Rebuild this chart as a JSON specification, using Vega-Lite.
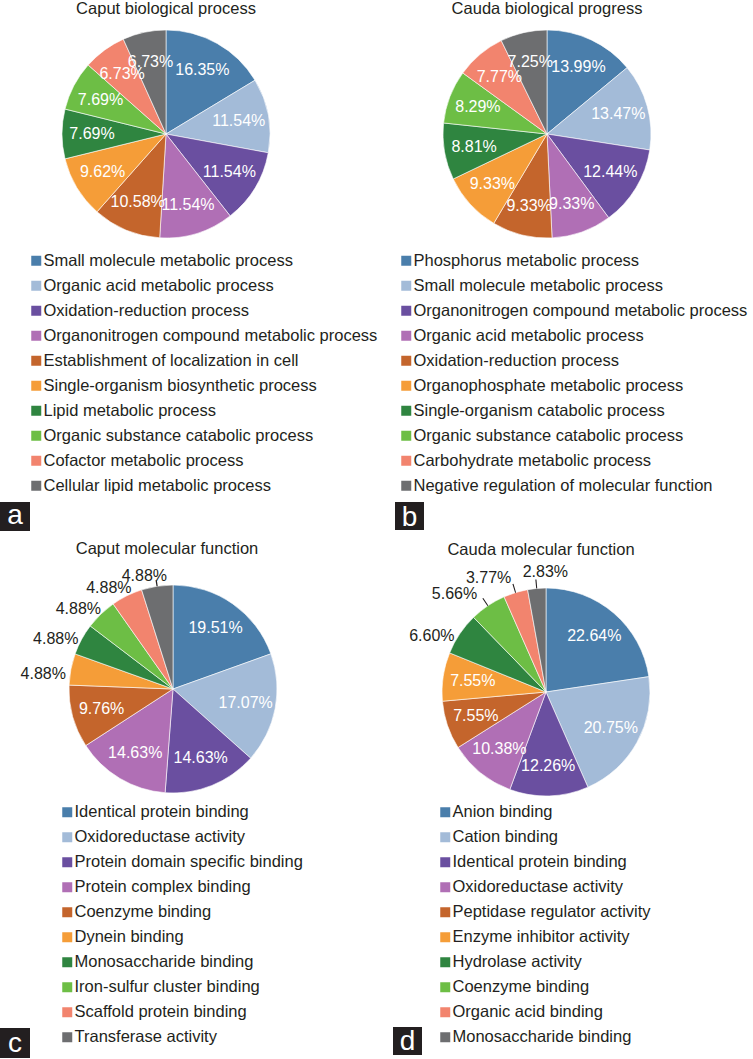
{
  "$schema": "https://vega.github.io/schema/vega-lite/v6.json",
  "background": "white",
  "padding": {"left": 0, "top": 1, "right": 0, "bottom": 0},
  "datasets": {
    "bpCaput": [
      {"rank": 1, "term": "Small molecule metabolic process", "pct": 0.1635},
      {"rank": 2, "term": "Organic acid metabolic process", "pct": 0.1154},
      {"rank": 3, "term": "Oxidation-reduction process", "pct": 0.1154},
      {"rank": 4, "term": "Organonitrogen compound metabolic process", "pct": 0.1154},
      {"rank": 5, "term": "Establishment of localization in cell", "pct": 0.1058},
      {"rank": 6, "term": "Single-organism biosynthetic process", "pct": 0.0962},
      {"rank": 7, "term": "Lipid metabolic process", "pct": 0.0769},
      {"rank": 8, "term": "Organic substance catabolic process", "pct": 0.0769},
      {"rank": 9, "term": "Cofactor metabolic process", "pct": 0.0673},
      {"rank": 10, "term": "Cellular lipid metabolic process", "pct": 0.0673}
    ],
    "bpCauda": [
      {"rank": 1, "term": "Phosphorus metabolic process", "pct": 0.1399},
      {"rank": 2, "term": "Small molecule metabolic process", "pct": 0.1347},
      {"rank": 3, "term": "Organonitrogen compound metabolic process", "pct": 0.1244},
      {"rank": 4, "term": "Organic acid metabolic process", "pct": 0.0933},
      {"rank": 5, "term": "Oxidation-reduction process", "pct": 0.0933},
      {"rank": 6, "term": "Organophosphate metabolic process", "pct": 0.0933},
      {"rank": 7, "term": "Single-organism catabolic process", "pct": 0.0881},
      {"rank": 8, "term": "Organic substance catabolic process", "pct": 0.0829},
      {"rank": 9, "term": "Carbohydrate metabolic process", "pct": 0.0777},
      {"rank": 10, "term": "Negative regulation of molecular function", "pct": 0.0725}
    ],
    "mfCaput": [
      {"rank": 1, "term": "Identical protein binding", "pct": 0.1951},
      {"rank": 2, "term": "Oxidoreductase activity", "pct": 0.1707},
      {"rank": 3, "term": "Protein domain specific binding", "pct": 0.1463},
      {"rank": 4, "term": "Protein complex binding", "pct": 0.1463},
      {"rank": 5, "term": "Coenzyme binding", "pct": 0.0976},
      {"rank": 6, "term": "Dynein binding", "pct": 0.0488},
      {"rank": 7, "term": "Monosaccharide binding", "pct": 0.0488},
      {"rank": 8, "term": "Iron-sulfur cluster binding", "pct": 0.0488},
      {"rank": 9, "term": "Scaffold protein binding", "pct": 0.0488},
      {"rank": 10, "term": "Transferase activity", "pct": 0.0488}
    ],
    "mfCauda": [
      {"rank": 1, "term": "Anion binding", "pct": 0.2264},
      {"rank": 2, "term": "Cation binding", "pct": 0.2075},
      {"rank": 3, "term": "Identical protein binding", "pct": 0.1226},
      {"rank": 4, "term": "Oxidoreductase activity", "pct": 0.1038},
      {"rank": 5, "term": "Peptidase regulator activity", "pct": 0.0755},
      {"rank": 6, "term": "Enzyme inhibitor activity", "pct": 0.0755},
      {"rank": 7, "term": "Hydrolase activity", "pct": 0.066},
      {"rank": 8, "term": "Coenzyme binding", "pct": 0.0566},
      {"rank": 9, "term": "Organic acid binding", "pct": 0.0377},
      {"rank": 10, "term": "Monosaccharide binding", "pct": 0.0283}
    ]
  },
  "vconcat": [
    {
      "hconcat": [
        {
          "width": 208, "height": 208,
          "title": {"text": "Caput biological process", "offset": 11},
          "data": {"name": "bpCaput"},
          "layer": [
            {"mark": {"type": "arc", "radius": 104, "stroke": "#ffffff", "strokeWidth": 0.6},
             "encoding": {
               "theta": {"field": "pct", "type": "quantitative", "stack": true},
               "order": {"field": "rank", "type": "quantitative"},
               "color": {"field": "term", "type": "nominal",
                 "scale": {"domain": ["Small molecule metabolic process", "Organic acid metabolic process", "Oxidation-reduction process", "Organonitrogen compound metabolic process", "Establishment of localization in cell", "Single-organism biosynthetic process", "Lipid metabolic process", "Organic substance catabolic process", "Cofactor metabolic process", "Cellular lipid metabolic process"],
                           "range": ["#4a7eab", "#a3bbd8", "#6a4fa0", "#b06fb5", "#c4652c", "#f59d38", "#2f8540", "#6dbe45", "#f2846e", "#6d6e70"]},
                 "legend": {"title": null, "orient": "none", "legendX": -34, "legendY": 222.5}}
             }},
            {"mark": {"type": "text", "radius": 74, "fill": "#ffffff", "fontSize": 16},
             "encoding": {
               "theta": {"field": "pct", "type": "quantitative", "stack": true},
               "order": {"field": "rank", "type": "quantitative"},
               "text": {"field": "pct", "type": "quantitative", "format": ".2%"}
             }},
            {"data": {"values": [{"letter": "a"}]},
             "mark": {"type": "rect", "x": -62, "x2": -32, "y": 472, "y2": 501, "fill": "#231f20"},
             "encoding": {}},
            {"data": {"values": [{"letter": "a"}]},
             "mark": {"type": "text", "x": -47, "y": 494, "fill": "#ffffff", "fontSize": 28, "align": "center", "baseline": "alphabetic"},
             "encoding": {"text": {"field": "letter", "type": "nominal"}}}
          ]
        },
        {
          "width": 208, "height": 208,
          "title": {"text": "Cauda biological progress", "offset": 11},
          "data": {"name": "bpCauda"},
          "layer": [
            {"mark": {"type": "arc", "radius": 104, "stroke": "#ffffff", "strokeWidth": 0.6},
             "encoding": {
               "theta": {"field": "pct", "type": "quantitative", "stack": true},
               "order": {"field": "rank", "type": "quantitative"},
               "color": {"field": "term", "type": "nominal",
                 "scale": {"domain": ["Phosphorus metabolic process", "Small molecule metabolic process", "Organonitrogen compound metabolic process", "Organic acid metabolic process", "Oxidation-reduction process", "Organophosphate metabolic process", "Single-organism catabolic process", "Organic substance catabolic process", "Carbohydrate metabolic process", "Negative regulation of molecular function"],
                           "range": ["#4a7eab", "#a3bbd8", "#6a4fa0", "#b06fb5", "#c4652c", "#f59d38", "#2f8540", "#6dbe45", "#f2846e", "#6d6e70"]},
                 "legend": {"title": null, "orient": "none", "legendX": -45, "legendY": 222.5}}
             }},
            {"mark": {"type": "text", "radius": 74, "fill": "#ffffff", "fontSize": 16},
             "encoding": {
               "theta": {"field": "pct", "type": "quantitative", "stack": true},
               "order": {"field": "rank", "type": "quantitative"},
               "text": {"field": "pct", "type": "quantitative", "format": ".2%"}
             }},
            {"data": {"values": [{"letter": "b"}]},
             "mark": {"type": "rect", "x": -48, "x2": -19, "y": 472, "y2": 500, "fill": "#231f20"},
             "encoding": {}},
            {"data": {"values": [{"letter": "b"}]},
             "mark": {"type": "text", "x": -33.5, "y": 496, "fill": "#ffffff", "fontSize": 28, "align": "center", "baseline": "alphabetic"},
             "encoding": {"text": {"field": "letter", "type": "nominal"}}}
          ]
        }
      ],
      "spacing": 173,
      "bounds": "flush",
      "resolve": {"scale": {"color": "independent"}, "legend": {"color": "independent"}}
    },
    {
      "hconcat": [
        {
          "width": 222, "height": 208,
          "title": {"text": "Caput molecular function", "offset": 11, "dx": -6},
          "data": {"name": "mfCaput"},
          "layer": [
            {"mark": {"type": "arc", "radius": 104, "stroke": "#ffffff", "strokeWidth": 0.6},
             "encoding": {
               "theta": {"field": "pct", "type": "quantitative", "stack": true},
               "order": {"field": "rank", "type": "quantitative"},
               "color": {"field": "term", "type": "nominal",
                 "scale": {"domain": ["Identical protein binding", "Oxidoreductase activity", "Protein domain specific binding", "Protein complex binding", "Coenzyme binding", "Dynein binding", "Monosaccharide binding", "Iron-sulfur cluster binding", "Scaffold protein binding", "Transferase activity"],
                           "range": ["#4a7eab", "#a3bbd8", "#6a4fa0", "#b06fb5", "#c4652c", "#f59d38", "#2f8540", "#6dbe45", "#f2846e", "#6d6e70"]},
                 "legend": {"title": null, "orient": "none", "legendX": -3, "legendY": 219}}
             }},
            {"mark": {"type": "text", "radius": 74, "fill": "#ffffff", "fontSize": 16},
             "encoding": {
               "theta": {"field": "pct", "type": "quantitative", "stack": true},
               "order": {"field": "rank", "type": "quantitative"},
               "text": {"field": "pct", "type": "quantitative", "format": ".2%"},
               "opacity": {"condition": {"test": "datum.pct < 0.07", "value": 0}, "value": 1}
             }},
            {"mark": {"type": "text", "radius": 122, "dx": -10, "dy": 8, "fill": "#231f20", "fontSize": 16},
             "encoding": {
               "theta": {"field": "pct", "type": "quantitative", "stack": true},
               "order": {"field": "rank", "type": "quantitative"},
               "text": {"field": "pct", "type": "quantitative", "format": ".2%"},
               "opacity": {"condition": {"test": "datum.pct < 0.07", "value": 1}, "value": 0}
             }},
            {"transform": [
               {"window": [{"op": "sum", "field": "pct", "as": "cum"}], "sort": [{"field": "rank"}]},
               {"calculate": "(datum.cum - datum.pct / 2) * 2 * PI", "as": "mid"},
               {"calculate": "datum.mid - 0.006", "as": "t1"},
               {"calculate": "datum.mid + 0.006", "as": "t2"},
               {"filter": "datum.rank == 10"}
             ],
             "mark": {"type": "arc", "radius": 110, "radius2": 104, "fill": "#231f20", "stroke": null},
             "encoding": {
               "theta": {"field": "t1", "type": "quantitative", "scale": null},
               "theta2": {"field": "t2"}
             }},
            {"data": {"values": [{"letter": "c"}]},
             "mark": {"type": "rect", "x": -62, "x2": -32, "y": 443, "y2": 473, "fill": "#231f20"},
             "encoding": {}},
            {"data": {"values": [{"letter": "c"}]},
             "mark": {"type": "text", "x": -47, "y": 467, "fill": "#ffffff", "fontSize": 28, "align": "center", "baseline": "alphabetic"},
             "encoding": {"text": {"field": "letter", "type": "nominal"}}}
          ]
        },
        {
          "width": 208, "height": 214,
          "title": {"text": "Cauda molecular function", "offset": 5.5, "dx": -5},
          "data": {"name": "mfCauda"},
          "layer": [
            {"mark": {"type": "arc", "radius": 104, "stroke": "#ffffff", "strokeWidth": 0.6},
             "encoding": {
               "theta": {"field": "pct", "type": "quantitative", "stack": true},
               "order": {"field": "rank", "type": "quantitative"},
               "color": {"field": "term", "type": "nominal",
                 "scale": {"domain": ["Anion binding", "Cation binding", "Identical protein binding", "Oxidoreductase activity", "Peptidase regulator activity", "Enzyme inhibitor activity", "Hydrolase activity", "Coenzyme binding", "Organic acid binding", "Monosaccharide binding"],
                           "range": ["#4a7eab", "#a3bbd8", "#6a4fa0", "#b06fb5", "#c4652c", "#f59d38", "#2f8540", "#6dbe45", "#f2846e", "#6d6e70"]},
                 "legend": {"title": null, "orient": "none", "legendX": -5, "legendY": 219}}
             }},
            {"mark": {"type": "text", "radius": 74, "fill": "#ffffff", "fontSize": 16},
             "encoding": {
               "theta": {"field": "pct", "type": "quantitative", "stack": true},
               "order": {"field": "rank", "type": "quantitative"},
               "text": {"field": "pct", "type": "quantitative", "format": ".2%"},
               "opacity": {"condition": {"test": "datum.pct < 0.07", "value": 0}, "value": 1}
             }},
            {"mark": {"type": "text", "radius": 122, "dx": -13, "dy": 12, "fill": "#231f20", "fontSize": 16},
             "encoding": {
               "theta": {"field": "pct", "type": "quantitative", "stack": true},
               "order": {"field": "rank", "type": "quantitative"},
               "text": {"field": "pct", "type": "quantitative", "format": ".2%"},
               "opacity": {"condition": {"test": "datum.pct < 0.07 && datum.pct >= 0.06", "value": 1}, "value": 0}
             }},
            {"mark": {"type": "text", "radius": 128, "dx": -20, "dy": 8, "fill": "#231f20", "fontSize": 16},
             "encoding": {
               "theta": {"field": "pct", "type": "quantitative", "stack": true},
               "order": {"field": "rank", "type": "quantitative"},
               "text": {"field": "pct", "type": "quantitative", "format": ".2%"},
               "opacity": {"condition": {"test": "datum.pct < 0.06 && datum.pct >= 0.03", "value": 1}, "value": 0}
             }},
            {"mark": {"type": "text", "radius": 120, "dx": 10, "dy": 0, "fill": "#231f20", "fontSize": 16},
             "encoding": {
               "theta": {"field": "pct", "type": "quantitative", "stack": true},
               "order": {"field": "rank", "type": "quantitative"},
               "text": {"field": "pct", "type": "quantitative", "format": ".2%"},
               "opacity": {"condition": {"test": "datum.pct < 0.03", "value": 1}, "value": 0}
             }},
            {"transform": [
               {"window": [{"op": "sum", "field": "pct", "as": "cum"}], "sort": [{"field": "rank"}]},
               {"calculate": "(datum.cum - datum.pct / 2) * 2 * PI", "as": "mid"},
               {"calculate": "datum.mid - 0.005", "as": "t1"},
               {"calculate": "datum.mid + 0.005", "as": "t2"},
               {"filter": "datum.rank >= 8"}
             ],
             "mark": {"type": "arc", "radius": 113, "radius2": 104, "fill": "#231f20", "stroke": null},
             "encoding": {
               "theta": {"field": "t1", "type": "quantitative", "scale": null},
               "theta2": {"field": "t2"}
             }},
            {"data": {"values": [{"letter": "d"}]},
             "mark": {"type": "rect", "x": -49, "x2": -20, "y": 442, "y2": 470, "fill": "#231f20"},
             "encoding": {}},
            {"data": {"values": [{"letter": "d"}]},
             "mark": {"type": "text", "x": -34.5, "y": 465, "fill": "#ffffff", "fontSize": 28, "align": "center", "baseline": "alphabetic"},
             "encoding": {"text": {"field": "letter", "type": "nominal"}}}
          ]
        }
      ],
      "spacing": 158,
      "bounds": "flush",
      "resolve": {"scale": {"color": "independent"}, "legend": {"color": "independent"}}
    }
  ],
  "spacing": 555,
  "bounds": "flush",
  "resolve": {"scale": {"color": "independent"}, "legend": {"color": "independent"}},
  "config": {
    "view": {"stroke": null},
    "font": "Liberation Sans",
    "text": {"font": "Liberation Sans"},
    "title": {"fontSize": 16.5, "fontWeight": "normal", "font": "Liberation Sans", "color": "#231f20", "baseline": "alphabetic", "frame": "group", "anchor": "middle"},
    "legend": {"direction": "vertical", "symbolType": "square", "symbolSize": 100, "symbolStrokeWidth": 0, "labelFontSize": 16.5, "labelFont": "Liberation Sans", "labelColor": "#231f20", "labelLimit": 500, "rowPadding": 8, "labelOffset": -1, "padding": 0}
  }
}
